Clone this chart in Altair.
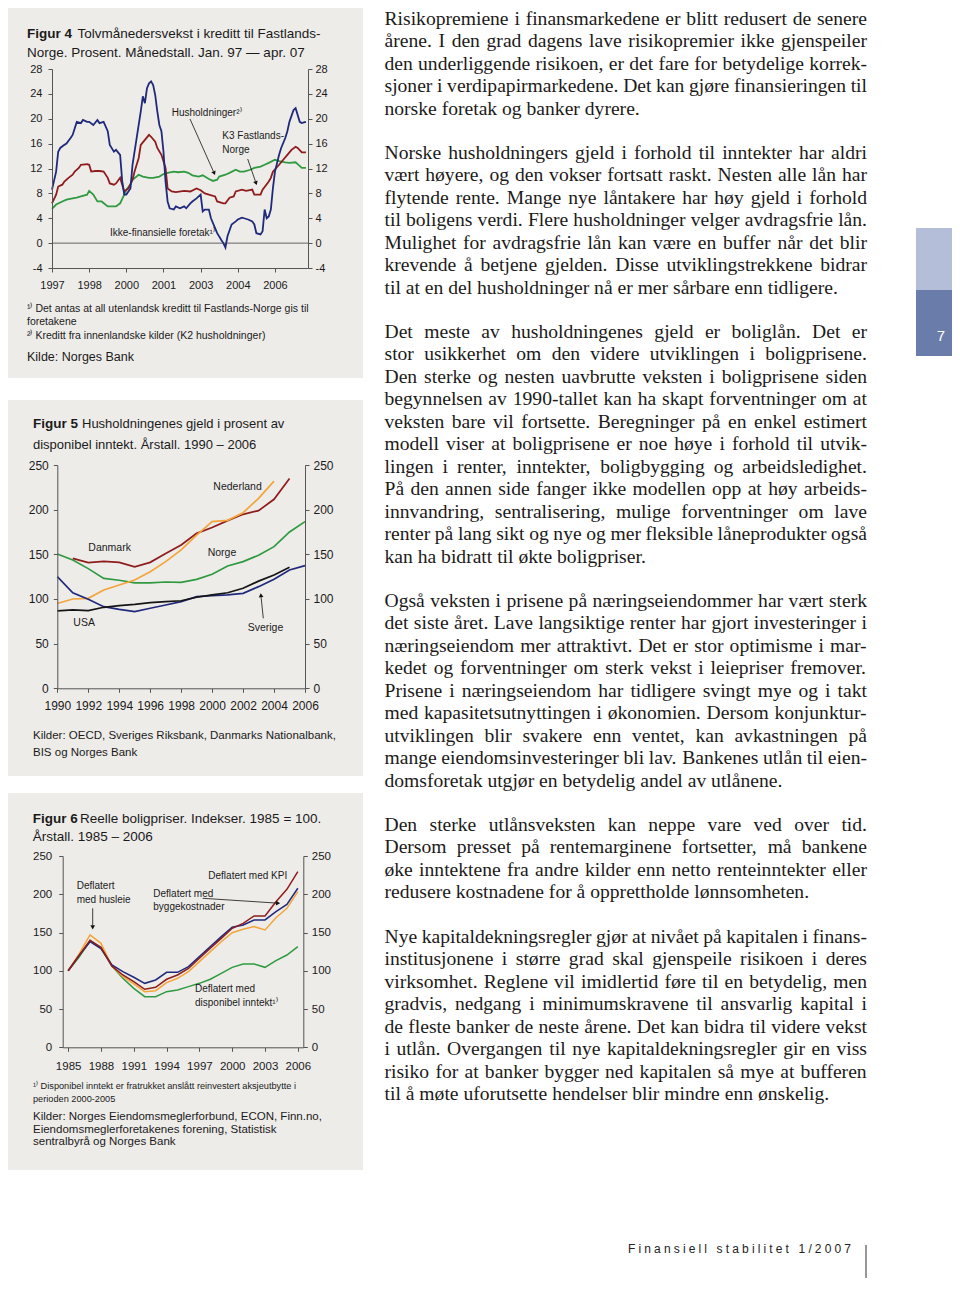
import math
import altair as alt
import pandas as pd

# ============================ DATA ============================
# Figur 4 - tolvmånedersvekst (prosent). month index 0 = jan. 1997
f4_nonfin_month = [0, 2, 3, 4, 6, 7, 9, 10, 12, 14, 15, 17, 18, 20, 22, 23, 25, 27, 28, 30,
                   31, 33, 34, 35, 36, 38, 39, 41, 43, 44, 45, 46, 47, 48, 49, 50, 51, 52, 53, 54,
                   55, 56, 57, 59, 60, 62, 64, 65, 67, 68, 70, 72, 73, 74, 76, 77, 79, 80, 82, 83,
                   84, 85, 87, 89, 90, 92, 93, 95, 97, 98, 99, 101, 102, 103, 104, 105, 106, 107, 108, 110,
                   111, 113, 114, 115, 117, 118, 120, 121, 122, 123]
f4_nonfin_value = [8.6, 11.5, 14.7, 15.3, 15.8, 16.0, 16.9, 17.4, 19.5, 19.3, 19.8, 19.5, 19.5, 19.0, 19.8, 19.3, 19.5, 18.0, 15.8, 14.7,
                   15.0, 14.2, 10.0, 7.8, 7.8, 8.8, 12.6, 16.9, 21.2, 23.6, 22.5, 24.9, 25.7, 26.0, 25.4, 23.8, 21.2, 19.0, 18.0, 14.7,
                   9.9, 6.7, 5.6, 5.4, 5.9, 5.6, 5.9, 5.6, 6.4, 6.7, 7.2, 7.8, 5.1, 5.4, 5.4, 4.0, 2.4, 1.6, 0.5, 0.0,
                   -0.7, 1.1, 3.0, 3.5, 3.8, 4.1, 4.0, 3.8, 3.5, 3.0, 1.6, 1.4, 1.9, 5.4, 4.0, 4.3, 5.4, 8.8, 11.5, 14.2,
                   15.3, 16.9, 18.0, 19.5, 21.4, 21.7, 19.5, 19.3, 19.4, 19.5]
f4_k3_month = [0, 2, 3, 5, 6, 8, 10, 11, 13, 14, 17, 18, 19, 21, 23, 25, 27, 28, 30, 31,
               33, 34, 35, 37, 39, 40, 42, 43, 45, 47, 48, 50, 51, 53, 55, 56, 58, 60, 64, 67,
               70, 72, 74, 76, 79, 80, 83, 84, 86, 88, 89, 92, 94, 97, 98, 101, 102, 105, 106, 107,
               110, 112, 114, 116, 118, 119, 121, 123]
f4_k3_value = [6.4, 7.8, 9.1, 9.4, 9.9, 10.5, 11.0, 11.5, 12.1, 12.6, 12.7, 12.6, 11.5, 11.6, 11.6, 11.5, 10.5, 9.6, 9.4, 9.6,
               10.5, 9.4, 8.3, 8.8, 10.2, 11.5, 13.7, 15.8, 16.6, 17.4, 17.1, 16.3, 15.3, 14.2, 12.1, 8.8, 8.3, 8.2, 8.4, 8.3,
               8.8, 8.5, 8.0, 7.8, 7.5, 6.7, 6.4, 6.4, 7.3, 7.5, 8.3, 8.6, 8.4, 8.6, 7.8, 7.8, 8.6, 9.9, 10.5, 11.5,
               12.6, 13.4, 14.2, 15.0, 15.5, 15.3, 14.6, 14.6]
f4_hh_month = [0, 2, 5, 7, 10, 12, 14, 17, 18, 20, 22, 24, 27, 29, 31, 33, 35, 36, 38, 39,
               42, 44, 47, 49, 52, 54, 56, 59, 61, 64, 66, 68, 71, 73, 76, 78, 80, 81, 84, 86,
               89, 91, 93, 96, 98, 101, 103, 105, 108, 110, 113, 115, 118, 119, 121, 123]
f4_hh_value = [5.5, 6.2, 6.7, 7.0, 7.2, 7.3, 7.5, 7.8, 8.4, 7.8, 6.7, 6.7, 5.9, 5.9, 5.9, 6.4, 7.8, 8.6, 9.4, 10.2,
               11.0, 10.7, 10.5, 10.5, 10.7, 11.1, 11.3, 11.5, 11.4, 11.5, 11.3, 10.9, 10.7, 10.9, 10.3, 10.0, 10.2, 10.7, 11.0, 11.3,
               11.8, 11.5, 11.5, 11.8, 12.1, 12.3, 12.6, 12.9, 13.4, 13.2, 13.0, 12.9, 13.0, 12.7, 12.1, 12.1]
f4_series = ["Ikke-finansielle foretak", "K3 Fastlands-Norge", "Husholdninger"]
f4_y_ticks = [-4, 0, 4, 8, 12, 16, 20, 24, 28]
f4_x_ticks = [1997, 1998.5, 2000, 2001.5, 2003, 2004.5, 2006]

# Figur 5 - gjeld i prosent av disponibel inntekt
f5_norge_years = list(range(1990, 2007))
f5_norge = [150.4, 143.7, 134, 123, 121, 118, 118, 119, 118.5, 122, 127.6, 137, 141.8, 149, 158.6, 175, 186.6]
f5_danmark_years = list(range(1991, 2006))
f5_danmark = [145.5, 140.7, 142, 141, 136, 141, 151, 160.4, 173.5, 180, 187.7, 194.8, 198.9, 211.6, 235]
f5_nederland_years = list(range(1990, 2005))
f5_nederland = [95, 100, 100.7, 110, 115.7, 121.3, 130.6, 141.8, 154.9, 171.6, 186.6, 188, 196.6, 212.7, 232]
f5_sverige_years = list(range(1990, 2007))
f5_sverige = [125, 107, 99.6, 91.4, 88.4, 85.8, 89.6, 93.3, 97, 102.6, 103.7, 104.5, 106.3, 113.8, 122, 132.5, 137.3]
f5_usa_years = list(range(1990, 2006))
f5_usa = [86.6, 87.7, 87, 90.7, 92.5, 94, 95.9, 97, 98, 101.9, 104.5, 107, 112, 120, 126.9, 135.4]
f5_series = ["Norge", "Danmark", "Nederland", "Sverige", "USA"]
f5_y_ticks = [0, 50, 100, 150, 200, 250]
f5_x_ticks = list(range(1990, 2007, 2))

# Figur 6 - reelle boligpriser, 1985 = 100
f6_years = list(range(1985, 2007))
f6_kpi = [100, 120, 140, 130.7, 106, 94.5, 85.8, 75.8, 78.4, 88.9, 94.5, 103, 116.3, 129.4, 142.4, 155.5, 162, 171.6, 171.6, 190.3, 206.4, 229.5]
f6_bygg = [100, 120, 138, 129, 107.6, 98.9, 91.5, 83.6, 88, 98, 98, 105.4, 118.5, 131.5, 144.6, 156.8, 159.8, 166.4, 166.4, 177.3, 186.8, 207.8]
f6_husleie = [100, 122, 146.8, 135.9, 106.3, 92.3, 82.8, 72.7, 74, 84.5, 90.2, 98.9, 112, 125, 138, 149.8, 154.2, 157.7, 153.3, 169.4, 181.6, 203.4]
f6_inntekt = [100, 118, 139.4, 129.4, 106.3, 90.2, 77.1, 66.2, 66.2, 72.7, 74.9, 79.3, 83.6, 88.9, 96.7, 104.5, 108.9, 108.9, 104.5, 113.2, 120.6, 131.5]
f6_series = ["Deflatert med disponibel inntekt", "Deflatert med husleie", "Deflatert med byggekostnader", "Deflatert med KPI"]
f6_y_ticks = [0, 50, 100, 150, 200, 250]
f6_x_ticks = list(range(1985, 2007, 3))

# ---- texts ----
fig4_bold = "Figur 4"
fig4_title = ["Tolvmånedersvekst i kreditt til Fastlands-", "Norge. Prosent. Månedstall. Jan. 97 \u2014 apr. 07"]
fig4_notes = ["\u00b9\u207e Det antas at all utenlandsk kreditt til Fastlands-Norge gis til", "foretakene",
              "\u00b2\u207e Kreditt fra innenlandske kilder (K2 husholdninger)"]
fig4_source = "Kilde: Norges Bank"
fig4_labels = ["Husholdninger\u00b2\u207e", "K3 Fastlands-", "Norge", "Ikke-finansielle foretak\u00b9\u207e"]

fig5_bold = "Figur 5"
fig5_title = ["Husholdningenes gjeld i prosent av", "disponibel inntekt. Årstall. 1990 \u2013 2006"]
fig5_source = ["Kilder: OECD, Sveriges Riksbank, Danmarks Nationalbank,", "BIS og Norges Bank"]
fig5_labels = ["Nederland", "Danmark", "Norge", "USA", "Sverige"]

fig6_bold = "Figur 6"
fig6_title = ["Reelle boligpriser. Indekser. 1985 = 100.", "Årstall. 1985 \u2013 2006"]
fig6_notes = ["\u00b9\u207e Disponibel inntekt er fratrukket anslått reinvestert aksjeutbytte i", "perioden 2000-2005"]
fig6_source = ["Kilder: Norges Eiendomsmeglerforbund, ECON, Finn.no,", "Eiendomsmeglerforetakenes forening, Statistisk",
               "sentralbyrå og Norges Bank"]
fig6_labels = ["Deflatert med KPI", "Deflatert med", "byggekostnader", "Deflatert", "med husleie",
               "Deflatert med", "disponibel inntekt\u00b9\u207e"]

body = [
    ["Risikopremiene i finansmarkedene er blitt redusert de senere",
     "årene. I den grad dagens lave risikopremier ikke gjenspeiler",
     "den underliggende risikoen, er det fare for betydelige korrek-",
     "sjoner i verdipapirmarkedene. Det kan gjøre finansieringen til",
     "norske foretak og banker dyrere."],
    ["Norske husholdningers gjeld i forhold til inntekter har aldri",
     "vært høyere, og den vokser fortsatt raskt. Nesten alle lån har",
     "flytende rente. Mange nye låntakere har høy gjeld i forhold",
     "til boligens verdi. Flere husholdninger velger avdragsfrie lån.",
     "Mulighet for avdragsfrie lån kan være en buffer når det blir",
     "krevende å betjene gjelden. Disse utviklingstrekkene bidrar",
     "til at en del husholdninger nå er mer sårbare enn tidligere."],
    ["Det meste av husholdningenes gjeld er boliglån. Det er",
     "stor usikkerhet om den videre utviklingen i boligprisene.",
     "Den sterke og nesten uavbrutte veksten i boligprisene siden",
     "begynnelsen av 1990-tallet kan ha skapt forventninger om at",
     "veksten bare vil fortsette. Beregninger på en enkel estimert",
     "modell viser at boligprisene er noe høye i forhold til utvik-",
     "lingen i renter, inntekter, boligbygging og arbeidsledighet.",
     "På den annen side fanger ikke modellen opp at høy arbeids-",
     "innvandring, sentralisering, mulige forventninger om lave",
     "renter på lang sikt og nye og mer fleksible låneprodukter også",
     "kan ha bidratt til økte boligpriser."],
    ["Også veksten i prisene på næringseiendommer har vært sterk",
     "det siste året. Lave langsiktige renter har gjort investeringer i",
     "næringseiendom mer attraktivt. Det er stor optimisme i mar-",
     "kedet og forventninger om sterk vekst i leiepriser fremover.",
     "Prisene i næringseiendom har tidligere svingt mye og i takt",
     "med kapasitetsutnyttingen i økonomien. Dersom konjunktur-",
     "utviklingen blir svakere enn ventet, kan avkastningen på",
     "mange eiendomsinvesteringer bli lav. Bankenes utlån til eien-",
     "domsforetak utgjør en betydelig andel av utlånene."],
    ["Den sterke utlånsveksten kan neppe vare ved over tid.",
     "Dersom presset på rentemarginene fortsetter, må bankene",
     "øke inntektene fra andre kilder enn netto renteinntekter eller",
     "redusere kostnadene for å opprettholde lønnsomheten."],
    ["Nye kapitaldekningsregler gjør at nivået på kapitalen i finans-",
     "institusjonene i større grad skal gjenspeile risikoen i deres",
     "virksomhet. Reglene vil imidlertid føre til en betydelig, men",
     "gradvis, nedgang i minimumskravene til ansvarlig kapital i",
     "de fleste banker de neste årene. Det kan bidra til videre vekst",
     "i utlån. Overgangen til nye kapitaldekningsregler gir en viss",
     "risiko for at banker bygger ned kapitalen så mye at bufferen",
     "til å møte uforutsette hendelser blir mindre enn ønskelig."],
]
footer_text = "Finansiell stabilitet 1/2007"
tab_text = "7"

# ============================ LAYOUT / STYLE ============================
OFF = 8            # page margin
W, H = 944, 1270   # canvas (page minus margin)


def X(px):
    return px - OFF


def Y(py):
    return py - OFF


SANS = "Liberation Sans, Arial, sans-serif"
SERIF = "Liberation Serif, Times New Roman, serif"
BOX = "#eeece9"
AXIS_COL = "#555555"
INK = "#1a1a1a"
NAVY, RED, GREEN, ORANGE, BLACK = "#1f2a7c", "#8e1c1c", "#2f9a3f", "#f3a43a", "#151515"

P4 = dict(x0=52, x1=308, y0=69, y1=268)
P5 = dict(x0=57.3, x1=305, y0=465, y1=688.3)
P6 = dict(x0=62.7, x1=303.3, y0=856, y1=1047.3)


def make_panel(df, p, xdom, ydom, xvals, yvals, xexpr, order, colors, fsize, padL, padR, padB, sw, zero=False):
    xs = alt.Scale(domain=xdom, range=[X(p["x0"]), X(p["x1"])], nice=False, zero=False)
    ys = alt.Scale(domain=ydom, range=[Y(p["y1"]), Y(p["y0"])], nice=False, zero=False)
    common = dict(domainColor=AXIS_COL, tickColor=AXIS_COL, labelColor=INK, grid=False, labelFlush=False,
                  labelOverlap=False, tickSize=4, labelFont=SANS, labelFontSize=fsize, title=None, zindex=2)
    xaxis = alt.Axis(orient="bottom", offset=Y(p["y1"]) - H, values=xvals, labelExpr=xexpr,
                     labelPadding=padB, **common)
    yl = alt.Axis(orient="left", offset=-X(p["x0"]), values=yvals, labelExpr="'' + datum.value",
                  labelPadding=padL, **common)
    yr = alt.Axis(orient="right", offset=X(p["x1"]) - W, values=yvals, labelExpr="'' + datum.value",
                  labelPadding=padR, **common)
    out = []
    if zero:
        zr = alt.Chart(pd.DataFrame({"v": [0]})).mark_rule(color=AXIS_COL, strokeWidth=0.9).encode(
            y=alt.Y("v:Q", scale=ys, axis=None),
            x=alt.value(X(p["x0"])), x2=alt.value(X(p["x1"])))
        out.append(zr)
    lines = alt.Chart(df).mark_line(strokeWidth=sw).encode(
        x=alt.X("x:Q", scale=xs, axis=xaxis),
        y=alt.Y("v:Q", scale=ys, axis=yl),
        color=alt.Color("s:N", scale=alt.Scale(domain=order, range=colors), legend=None),
    )
    right = alt.Chart(pd.DataFrame({"v": yvals})).mark_point(opacity=0).encode(
        y=alt.Y("v:Q", scale=ys, axis=yr))
    return out + [lines, right]


def series_frame(pairs):
    rows = []
    for name, xs, vs in pairs:
        assert len(xs) == len(vs), name
        for a, b in zip(xs, vs):
            rows.append({"s": name, "x": a, "v": b})
    return pd.DataFrame(rows)


df4 = series_frame([
    (f4_series[2], [1997 + m / 12 for m in f4_hh_month], f4_hh_value),
    (f4_series[1], [1997 + m / 12 for m in f4_k3_month], f4_k3_value),
    (f4_series[0], [1997 + m / 12 for m in f4_nonfin_month], f4_nonfin_value),
])
df5 = series_frame([
    (f5_series[0], f5_norge_years, f5_norge),
    (f5_series[1], f5_danmark_years, f5_danmark),
    (f5_series[2], f5_nederland_years, f5_nederland),
    (f5_series[3], f5_sverige_years, f5_sverige),
    (f5_series[4], f5_usa_years, f5_usa),
])
df6 = series_frame([
    (f6_series[0], f6_years, f6_inntekt),
    (f6_series[1], f6_years, f6_husleie),
    (f6_series[2], f6_years, f6_bygg),
    (f6_series[3], f6_years, f6_kpi),
])

p4 = make_panel(df4, P4, [1997, 1997 + 124 / 12], [-4, 28], f4_x_ticks, f4_y_ticks,
                "'' + floor(datum.value)", [f4_series[2], f4_series[1], f4_series[0]], [GREEN, RED, NAVY],
                11, 6, 3, 7, 1.8, zero=True)
p5 = make_panel(df5, P5, [1990, 2006], [0, 250], f5_x_ticks, f5_y_ticks, "'' + datum.value",
                f5_series, [GREEN, RED, ORANGE, NAVY, BLACK], 12, 5, 4, 8, 1.7)
p6 = make_panel(df6, P6, [1984.5, 2006.5], [0, 250], f6_x_ticks, f6_y_ticks, "'' + datum.value",
                f6_series, [GREEN, ORANGE, NAVY, RED], 11.5, 7, 4, 9, 1.5)

# ---- backgrounds (boxes, side tab, footer rule) ----
rects = pd.DataFrame([
    dict(x=X(8), x2=X(363), y=Y(8), y2=Y(378), c=BOX),
    dict(x=X(8), x2=X(363), y=Y(400), y2=Y(776), c=BOX),
    dict(x=X(8), x2=X(363), y=Y(793), y2=Y(1170), c=BOX),
    dict(x=X(916), x2=X(960), y=Y(228), y2=Y(290), c="#b5bed8"),
    dict(x=X(916), x2=X(960), y=Y(290), y2=Y(356), c="#6a7ca9"),
    dict(x=X(865.5), x2=X(866.5), y=Y(1245), y2=H, c="#333333"),
])
bg = alt.Chart(rects).mark_rect().encode(
    x=alt.X("x:Q", scale=None, axis=None), x2="x2:Q",
    y=alt.Y("y:Q", scale=None, axis=None), y2="y2:Q",
    color=alt.Color("c:N", scale=None, legend=None))

# ---- arrows ----
arrow_xy = [((190, 119), (215, 175)), ((247.7, 159), (256.7, 185)), ((263.3, 618.3), (260.7, 593.3)),
            ((92.7, 908.3), (92.7, 929.3)), ((202.7, 898.3), (280, 903.3))]
shaft, heads = [], []
for (ax, ay), (bx, by) in arrow_xy:
    dx, dy = bx - ax, by - ay
    ln = math.hypot(dx, dy)
    ux, uy = dx / ln, dy / ln
    shaft.append(dict(x=X(ax), y=Y(ay), x2=X(bx - ux * 4), y2=Y(by - uy * 4)))
    heads.append(dict(x=X(bx - ux * 2.6), y=Y(by - uy * 2.6), a=math.degrees(math.atan2(dx, -dy)) % 360))
arrow_lines = alt.Chart(pd.DataFrame(shaft)).mark_rule(color="#111111", strokeWidth=0.8).encode(
    x=alt.X("x:Q", scale=None, axis=None), x2="x2:Q",
    y=alt.Y("y:Q", scale=None, axis=None), y2="y2:Q")
arrow_heads = alt.Chart(pd.DataFrame(heads)).mark_point(shape="triangle", filled=True, size=22,
                                                         color="#111111", opacity=1).encode(
    x=alt.X("x:Q", scale=None, axis=None), y=alt.Y("y:Q", scale=None, axis=None),
    angle=alt.Angle("a:Q", scale=None))

# ---- text helpers ----
TIMES = {' ': 250, '!': 333, '(': 333, ')': 333, ',': 250, '-': 333, '.': 250, '/': 278, ':': 278, ';': 278,
         '?': 444, "'": 333,
         'A': 722, 'B': 667, 'C': 667, 'D': 722, 'E': 611, 'F': 556, 'G': 722, 'H': 722, 'I': 333, 'J': 389,
         'K': 722, 'L': 611, 'M': 889, 'N': 722, 'O': 722, 'P': 556, 'Q': 722, 'R': 667, 'S': 556, 'T': 611,
         'U': 722, 'V': 722, 'W': 944, 'X': 722, 'Y': 722, 'Z': 611,
         'a': 444, 'b': 500, 'c': 444, 'd': 500, 'e': 444, 'f': 333, 'g': 500, 'h': 500, 'i': 278, 'j': 278,
         'k': 500, 'l': 278, 'm': 778, 'n': 500, 'o': 500, 'p': 500, 'q': 500, 'r': 333, 's': 389, 't': 278,
         'u': 500, 'v': 500, 'w': 722, 'x': 500, 'y': 500, 'z': 444, 'å': 444, 'æ': 667, 'ø': 500,
         'Å': 722, 'Æ': 889, 'Ø': 722}
ARIAL = {' ': 278, '/': 278, 'F': 611, 'i': 222, 'n': 556, 'a': 556, 's': 500, 'e': 556, 'l': 222,
         't': 278, 'b': 556}


def tw(s, size, table=TIMES):
    return sum(table.get(c, 500 if table is TIMES else 556) for c in s) * size / 1000


BODY_X, BODY_R, BODY_FS, BODY_LH = 384.5, 867, 19.6, 22.47
BODY_Y0 = [19, 153, 332, 601, 825, 937]
words = []
for pi, para in enumerate(body):
    for li, line in enumerate(para):
        yc = BODY_Y0[pi] + li * BODY_LH
        ws = line.split(" ")
        natural = sum(tw(w, BODY_FS) for w in ws)
        if li == len(para) - 1 or len(ws) < 2:
            gap = tw(" ", BODY_FS)
        else:
            gap = (BODY_R - BODY_X - natural) / (len(ws) - 1)
        x = BODY_X
        for w in ws:
            words.append(dict(x=X(x), y=Y(yc), t=w))
            x += tw(w, BODY_FS) + gap
body_layer = alt.Chart(pd.DataFrame(words)).mark_text(
    font=SERIF, fontSize=BODY_FS, align="left", baseline="middle", color="#1c1a19").encode(
    x=alt.X("x:Q", scale=None, axis=None), y=alt.Y("y:Q", scale=None, axis=None), text="t:N")

# footer (letter-spaced)
FOOT_X0, FOOT_X1, FOOT_Y, FOOT_FS = 628, 851, 1249, 12
adv = [tw(c, FOOT_FS, ARIAL) for c in footer_text]
track = (FOOT_X1 - FOOT_X0 - sum(adv[:-1]) - adv[-1]) / (len(footer_text) - 1)
foot_rows, fx = [], FOOT_X0
for c, a in zip(footer_text, adv):
    if c != " ":
        foot_rows.append(dict(x=X(fx), y=Y(FOOT_Y), t=c))
    fx += a + track

# (text, x, y, size, weight, color, align)
T = []
T += [(fig4_bold, 27, 33.5, 13.5, "bold", INK, "left"),
      (fig4_title[0], 77.5, 33.5, 13.5, "normal", INK, "left"),
      (fig4_title[1], 27, 52.5, 13.5, "normal", INK, "left"),
      (fig4_notes[0], 27, 309, 10.5, "normal", INK, "left"),
      (fig4_notes[1], 27, 322, 10.5, "normal", INK, "left"),
      (fig4_notes[2], 27, 335.5, 10.5, "normal", INK, "left"),
      (fig4_source, 27, 357, 12.5, "normal", INK, "left"),
      (fig4_labels[0], 171.7, 113.3, 10, "normal", INK, "left"),
      (fig4_labels[1], 222.3, 136, 10, "normal", INK, "left"),
      (fig4_labels[2], 222.3, 150, 10, "normal", INK, "left"),
      (fig4_labels[3], 110, 233.3, 10, "normal", INK, "left")]
T += [(fig5_bold, 33, 424, 13.5, "bold", INK, "left"),
      (fig5_title[0], 82, 424, 13, "normal", INK, "left"),
      (fig5_title[1], 33, 444.5, 13, "normal", INK, "left"),
      (fig5_source[0], 33, 736, 11.5, "normal", INK, "left"),
      (fig5_source[1], 33, 752.5, 11.5, "normal", INK, "left"),
      (fig5_labels[0], 213.3, 487.3, 10.5, "normal", INK, "left"),
      (fig5_labels[1], 88.3, 548.3, 10.5, "normal", INK, "left"),
      (fig5_labels[2], 207.7, 553.3, 10.5, "normal", INK, "left"),
      (fig5_labels[3], 73.3, 623.3, 10.5, "normal", INK, "left"),
      (fig5_labels[4], 247.7, 628.3, 10.5, "normal", INK, "left")]
T += [(fig6_bold, 32.7, 819, 13.5, "bold", INK, "left"),
      (fig6_title[0], 80, 819, 13.5, "normal", INK, "left"),
      (fig6_title[1], 32.7, 837, 13.5, "normal", INK, "left"),
      (fig6_notes[0], 33, 1085.7, 9.2, "normal", INK, "left"),
      (fig6_notes[1], 33, 1099, 9.2, "normal", INK, "left"),
      (fig6_source[0], 33, 1117, 11.5, "normal", INK, "left"),
      (fig6_source[1], 33, 1129.5, 11.5, "normal", INK, "left"),
      (fig6_source[2], 33, 1142, 11.5, "normal", INK, "left"),
      (fig6_labels[0], 208.3, 876, 10, "normal", INK, "left"),
      (fig6_labels[1], 153.3, 894.3, 10, "normal", INK, "left"),
      (fig6_labels[2], 153.3, 906.7, 10, "normal", INK, "left"),
      (fig6_labels[3], 76.7, 885.7, 10, "normal", INK, "left"),
      (fig6_labels[4], 76.7, 900, 10, "normal", INK, "left"),
      (fig6_labels[5], 195, 989, 10, "normal", INK, "left"),
      (fig6_labels[6], 195, 1003.3, 10, "normal", INK, "left")]
T += [(tab_text, 941, 336, 15, "normal", "#ffffff", "center")]

text_layers = []
groups = {}
for t, x, y, s, wgt, col, al in T:
    groups.setdefault((wgt, col, al), []).append(dict(x=X(x), y=Y(y), t=t, s=s))
for (wgt, col, al), rows in groups.items():
    text_layers.append(alt.Chart(pd.DataFrame(rows)).mark_text(
        font=SANS, fontWeight=wgt, align=al, baseline="middle", color=col).encode(
        x=alt.X("x:Q", scale=None, axis=None), y=alt.Y("y:Q", scale=None, axis=None),
        text="t:N", size=alt.Size("s:Q", scale=None, legend=None)))

footer_layer = alt.Chart(pd.DataFrame(foot_rows)).mark_text(
    font=SANS, fontSize=FOOT_FS, align="left", baseline="middle", color="#222222").encode(
    x=alt.X("x:Q", scale=None, axis=None), y=alt.Y("y:Q", scale=None, axis=None), text="t:N")

chart = alt.layer(
    bg, *p4, *p5, *p6, arrow_lines, arrow_heads, body_layer, footer_layer, *text_layers
).properties(
    width=W, height=H, padding=0, autosize=alt.AutoSizeParams(type="none"), background="white"
).resolve_scale(
    x="independent", y="independent", color="independent"
).resolve_axis(
    x="independent", y="independent"
).configure_view(stroke=None)

chart.save("out.html", embed_options={"renderer": "svg", "actions": False})
